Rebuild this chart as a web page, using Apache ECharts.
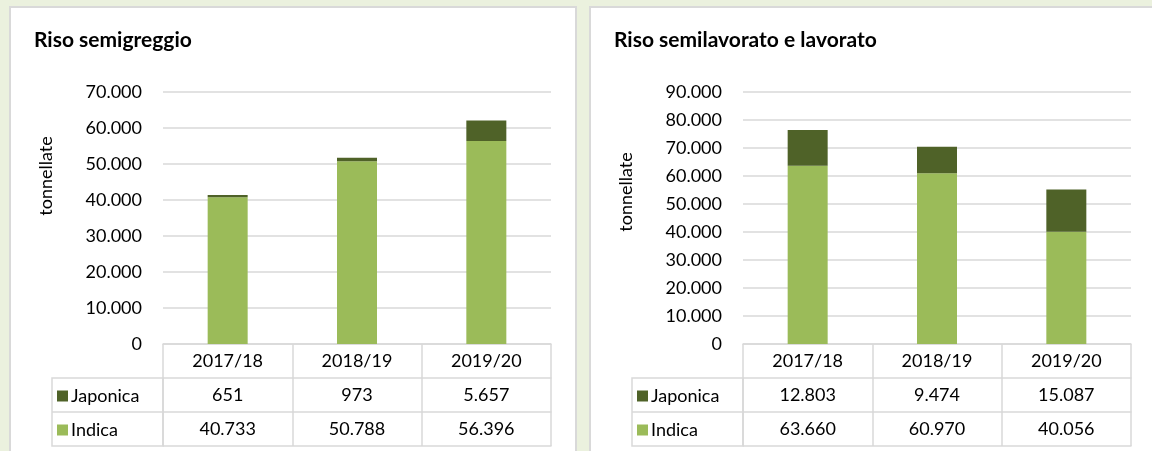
<!DOCTYPE html>
<html>
<head>
<meta charset="utf-8">
<script src="https://cdn.jsdelivr.net/npm/echarts@6/dist/echarts.min.js"></script>
<style>
  html, body { margin: 0; padding: 0; }
  body { width: 1152px; height: 451px; background: #ebf1de; position: relative; overflow: hidden; }
  .panel { position: absolute; top: 6px; height: 470px; background: #fff; border: 2px solid #d9d9d9; box-sizing: border-box; }
  #p1 { left: 9px; width: 568px; }
  #p2 { left: 589px; width: 600px; }
  .chart { position: absolute; left: 0; top: 0; }
</style>
</head>
<body>
<div class="panel" id="p1"><div class="chart" id="c1" style="width:564px;height:451px;"></div></div>
<div class="panel" id="p2"><div class="chart" id="c2" style="width:596px;height:451px;"></div></div>
<script>
  // dati (tonnellate)
  var years = ['2017/18', '2018/19', '2019/20'];
  var semiIndica = [40733, 50788, 56396];
  var semiJaponica = [651, 973, 5657];
  var lavIndica = [63660, 60970, 40056];
  var lavJaponica = [12803, 9474, 15087];

  var FONT = 'Lato';
  var FS = 18;
  var colIndica = '#9bbb59';
  var colJaponica = '#4f6228';
  var lineCol = '#d9d9d9';

  function fmt(v) {
    return String(v).replace(/\B(?=(\d{3})+(?!\d))/g, '.');
  }

  function tableAxis(data, offset, showTick) {
    return {
      type: 'category',
      position: 'bottom',
      offset: offset,
      data: data,
      axisLine: { show: true, lineStyle: { color: lineCol, width: 1.5 } },
      axisTick: { show: showTick, length: 102, lineStyle: { color: lineCol, width: 1.5 } },
      axisLabel: { show: data.length > 0, margin: 8, fontFamily: FONT, fontSize: FS, color: '#000' },
      splitLine: { show: false }
    };
  }

  function makeOption(title, indica, japonica, max, namePad) {
    return {
      animation: false,
      title: {
        text: title, left: 23, top: 22, padding: 0,
        textStyle: { fontFamily: FONT, fontSize: 21, fontWeight: 'bold', color: '#000' }
      },
      legend: {
        orient: 'vertical', left: 46, top: 378, padding: 0,
        data: ['Japonica', 'Indica'],
        selectedMode: false,
        icon: 'rect', itemWidth: 11, itemHeight: 11, itemGap: 14,
        textStyle: { fontFamily: FONT, fontSize: FS, color: '#000', lineHeight: 20, padding: [0, 0, 0, -2] }
      },
      grid: { left: 152, top: 84, width: 388, height: 252 },
      xAxis: [
        tableAxis(years, 0, true),
        tableAxis(japonica.map(fmt), 34, false),
        tableAxis(indica.map(fmt), 68, false),
        tableAxis([], 102, false)
      ],
      yAxis: {
        type: 'value', min: 0, max: max, interval: 10000,
        name: 'tonnellate', nameLocation: 'middle', nameGap: 108,
        nameTextStyle: { fontFamily: FONT, fontSize: FS, color: '#000', padding: namePad },
        axisLine: { show: false }, axisTick: { show: false },
        axisLabel: { margin: 21, fontFamily: FONT, fontSize: FS, color: '#000', formatter: fmt },
        splitLine: { lineStyle: { color: lineCol, width: 1.5 } }
      },
      graphic: [
        { type: 'rect', shape: { x: 41, y: 370, width: 111, height: 68 }, style: { fill: 'none', stroke: lineCol, lineWidth: 1.5 } },
        { type: 'line', shape: { x1: 41, y1: 404, x2: 152, y2: 404 }, style: { stroke: lineCol, lineWidth: 1.5 } }
      ],
      series: [
        { name: 'Indica', type: 'bar', stack: 'tot', barWidth: 40, data: indica, itemStyle: { color: colIndica } },
        { name: 'Japonica', type: 'bar', stack: 'tot', barWidth: 40, data: japonica, itemStyle: { color: colJaponica } }
      ]
    };
  }

  var c1 = echarts.init(document.getElementById('c1'));
  c1.setOption(makeOption('Riso semigreggio', semiIndica, semiJaponica, 70000, [0, 0, 0, 84]));

  var c2 = echarts.init(document.getElementById('c2'));
  c2.setOption(makeOption('Riso semilavorato e lavorato', lavIndica, lavJaponica, 90000, [0, 0, 0, 52]));
</script>
</body>
</html>
